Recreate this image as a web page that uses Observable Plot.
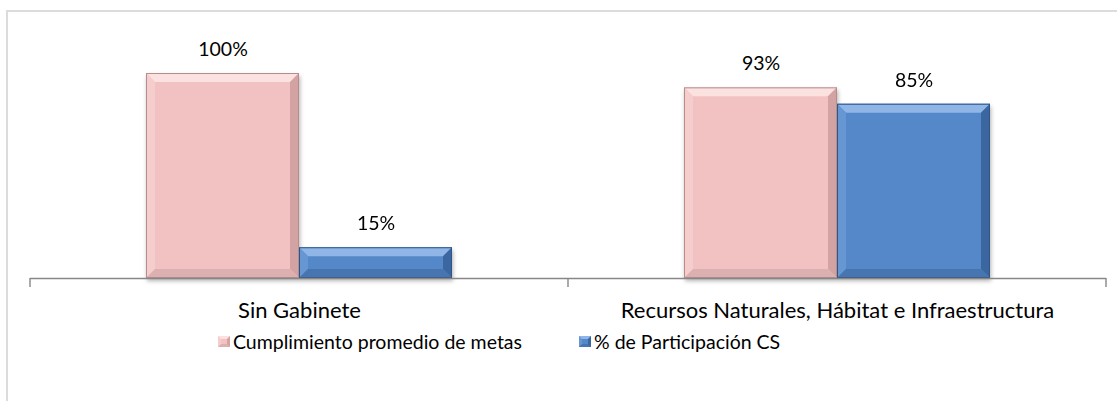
<!DOCTYPE html>
<html>
<head>
<meta charset="utf-8">
<script src="https://cdn.jsdelivr.net/npm/d3@7"></script>
<script src="https://cdn.jsdelivr.net/npm/@observablehq/plot@0.6"></script>
<style>
  body { margin: 0; background: #fff; font-family: Lato, "Open Sans", sans-serif; }
  #wrap { position: relative; width: 1117px; height: 401px; overflow: hidden; background: #fff; }
  #frame { position: absolute; left: 6px; top: 10px; width: 1130px; height: 420px;
           border-left: 2px solid #dcdcdc; border-top: 2px solid #dcdcdc; }
  #chart { position: absolute; left: 0; top: 0; }
  #legend { position: absolute; top: 330px; left: 218px; display: flex; align-items: center;
            font-family: Lato, sans-serif; font-size: 19.5px; color: #000; white-space: nowrap; }
  .item { display: flex; align-items: center; }
  .swatch { width: 6px; height: 5px; border-style: solid; border-width: 3px; margin-right: 3px; }
</style>
</head>
<body>
<div id="wrap">
  <div id="frame"></div>
  <div id="chart"></div>
  <div id="legend"></div>
</div>
<script>
// ---- data ----
const categories = ["Sin Gabinete", "Recursos Naturales, Hábitat e Infraestructura"];
const seriesNames = ["Cumplimiento promedio de metas", "% de Participación CS"];
const cumplimiento = [1.00, 0.93];
const participacion = [0.15, 0.85];
const seriesColors = ["#f2c2c2", "#5588c8"];

// bevel palettes per series: [top, left, right, bottom, outline]
const bevelColors = [
  ["#fbe2e1", "#f5cdcd", "#d3a3a3", "#dcb0b0", "#b98c8c"],
  ["#8fb6e6", "#6797d2", "#3b669f", "#4775b0", "#2d5586"]
];

const data = categories.flatMap((c, i) => [
  { category: c, series: seriesNames[0], value: cumplimiento[i] },
  { category: c, series: seriesNames[1], value: participacion[i] }
]);

const chart = Plot.plot({
  width: 1117,
  height: 330,
  marginLeft: 30,
  marginRight: 11,
  marginTop: 32,
  marginBottom: 52,
  style: { fontFamily: "Lato, sans-serif", fontSize: "22px", color: "#000", background: "transparent", overflow: "visible" },
  fx: { domain: categories, padding: 0, label: null, axis: "bottom", tickSize: 0, tickPadding: 24 },
  x: { domain: seriesNames, axis: null, paddingInner: 0, paddingOuter: 0.747 },
  y: { domain: [0, 1.2], axis: null },
  color: { domain: seriesNames, range: seriesColors },
  marks: [
    Plot.barY(data, { fx: "category", x: "series", y: "value", fill: "series" }),
    Plot.ruleY([0], { stroke: "#878787", strokeWidth: 1.4 }),
    Plot.text(data, { fx: "category", x: "series", y: "value", text: d => d3.format(".0%")(d.value),
                      dy: -24, fontSize: 19.5, fill: "#000" })
  ]
});
document.getElementById("chart").appendChild(chart);

const svg = d3.select(chart);

// bevel overlay derived from rendered bars
svg.selectAll('g[aria-label="bar"] rect').each(function() {
  const r = this;
  const x = +r.getAttribute("x"), y = +r.getAttribute("y");
  const w = +r.getAttribute("width"), h = +r.getAttribute("height");
  const i = d3.select(r).datum();
  const idx = data[i] ? seriesNames.indexOf(data[i].series) : 0;
  const pal = bevelColors[idx];
  const b = Math.min(9, h / 3);
  const g = d3.select(r.parentNode);
  const pts = [
    [[x, y], [x + w, y], [x + w - b, y + b], [x + b, y + b]],
    [[x, y], [x + b, y + b], [x + b, y + h - b], [x, y + h]],
    [[x + w, y], [x + w, y + h], [x + w - b, y + h - b], [x + w - b, y + b]],
    [[x, y + h], [x + b, y + h - b], [x + w - b, y + h - b], [x + w, y + h]]
  ];
  pts.forEach((p, k) => {
    g.append("polygon").attr("points", p.map(q => q.join(",")).join(" ")).attr("fill", pal[k]);
  });
  g.append("rect").attr("x", x + 0.5).attr("y", y + 0.5).attr("width", w - 1).attr("height", h - 1)
    .attr("fill", "none").attr("stroke", pal[4]).attr("stroke-width", 1);
});
svg.selectAll('g[aria-label="bar"]').style("filter", "drop-shadow(1px 3px 2px rgba(0,0,0,0.3))");

// category boundary ticks from the fx scale
const fx = chart.scale("fx");
const y0 = chart.scale("y").apply(0);
const edges = categories.map(c => fx.apply(c)).concat([fx.apply(categories[categories.length - 1]) + fx.bandwidth]);
svg.append("g").selectAll("line").data(edges).join("line")
  .attr("x1", d => d).attr("x2", d => d).attr("y1", y0).attr("y2", y0 + 9)
  .attr("stroke", "#878787").attr("stroke-width", 1.4);

// legend
const legend = d3.select("#legend");
seriesNames.forEach((s, i) => {
  const it = legend.append("div").attr("class", "item").style("margin-right", i === 0 ? "57px" : "0");
  const pal = bevelColors[i];
  it.append("div").attr("class", "swatch")
    .style("background", seriesColors[i])
    .style("border-color", `${pal[0]} ${pal[2]} ${pal[3]} ${pal[1]}`);
  it.append("span").text(s);
});
</script>
</body>
</html>
